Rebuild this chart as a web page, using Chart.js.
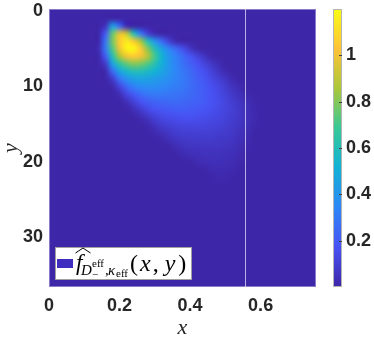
<!DOCTYPE html>
<html><head><meta charset="utf-8">
<script src="https://cdn.jsdelivr.net/npm/chart.js@4/dist/chart.umd.min.js"></script>
<style>html,body{margin:0;padding:0;background:#fff;}canvas{display:block;}</style>
</head><body>
<canvas id="c" width="374" height="340"></canvas>
<script>
// ---- axis ranges and ticks ----
const xRange = [0, 0.757];
const yRange = [-0.27, 36.6];
const cRange = [0, 1.2];
const xTickValues = [0, 0.2, 0.4, 0.6];
const xTickLabels = ['0', '0.2', '0.4', '0.6'];
const yTickValues = [0, 10, 20, 30];
const yTickLabels = ['0', '10', '20', '30'];
const cTickValues = [0.2, 0.4, 0.6, 0.8, 1];
const cTickLabels = ['0.2', '0.4', '0.6', '0.8', '1'];
const markerX = 0.557;

// ---- density grid (cell centres) ----
const gridX = [0.14,0.16,0.18,0.20,0.22,0.24,0.26,0.28,0.30,0.32,0.34,0.36,0.38,0.40,0.42,0.44,0.46,0.48,0.50,0.52,0.54,0.56,0.58,0.60];
const gridY = [1,2,3,4,5,6,7,8,9,10,11,12,13,14,15,16,17,18,19,20,21,22,23,24];
const density = [
 [0,0,0,0,0,0,0,0,0,0,0,0,0,0,0,0,0,0,0,0,0,0,0,0],
 [0,0.05,0.45,0.25,0.02,0,0,0,0,0,0,0,0,0,0,0,0,0,0,0,0,0,0,0],
 [0,0.2,0.75,0.98,0.92,0.6,0.3,0.1,0.02,0,0,0,0,0,0,0,0,0,0,0,0,0,0,0],
 [0,0.28,0.78,1.05,1.15,1.05,0.85,0.6,0.4,0.25,0.1,0.02,0,0,0,0,0,0,0,0,0,0,0,0],
 [0.02,0.3,0.72,1.0,1.18,1.19,1.05,0.8,0.6,0.45,0.33,0.25,0.15,0.07,0.01,0,0,0,0,0,0,0,0,0],
 [0,0.2,0.6,0.85,1.0,1.05,1.0,0.88,0.7,0.52,0.4,0.32,0.25,0.18,0.12,0.06,0.01,0,0,0,0,0,0,0],
 [0,0.08,0.45,0.65,0.75,0.8,0.78,0.72,0.62,0.5,0.4,0.33,0.27,0.22,0.17,0.12,0.07,0.03,0,0,0,0,0,0],
 [0,0.01,0.25,0.45,0.55,0.6,0.6,0.57,0.52,0.46,0.4,0.34,0.29,0.25,0.2,0.16,0.11,0.06,0.02,0,0,0,0,0],
 [0,0,0.08,0.28,0.38,0.44,0.46,0.45,0.43,0.4,0.37,0.33,0.3,0.26,0.22,0.18,0.14,0.1,0.06,0.02,0,0,0,0],
 [0,0,0.01,0.12,0.25,0.32,0.36,0.37,0.37,0.35,0.33,0.31,0.29,0.26,0.23,0.2,0.16,0.13,0.09,0.05,0.02,0,0,0],
 [0,0,0,0.03,0.13,0.2,0.26,0.29,0.3,0.3,0.29,0.28,0.27,0.25,0.23,0.2,0.17,0.14,0.11,0.07,0.04,0.01,0,0],
 [0,0,0,0,0.04,0.11,0.17,0.21,0.23,0.24,0.25,0.25,0.24,0.23,0.22,0.2,0.17,0.15,0.12,0.09,0.06,0.03,0.01,0],
 [0,0,0,0,0,0.04,0.09,0.14,0.17,0.19,0.2,0.21,0.21,0.2,0.19,0.18,0.16,0.14,0.12,0.1,0.07,0.04,0.015,0],
 [0,0,0,0,0,0,0.03,0.07,0.11,0.14,0.15,0.16,0.17,0.17,0.16,0.15,0.14,0.13,0.11,0.09,0.07,0.04,0.02,0],
 [0,0,0,0,0,0,0,0.02,0.06,0.09,0.11,0.12,0.13,0.13,0.13,0.13,0.12,0.11,0.1,0.08,0.06,0.04,0.01,0],
 [0,0,0,0,0,0,0,0,0.02,0.05,0.07,0.09,0.1,0.1,0.1,0.1,0.1,0.09,0.08,0.07,0.05,0.03,0,0],
 [0,0,0,0,0,0,0,0,0,0.01,0.04,0.06,0.07,0.08,0.08,0.08,0.08,0.07,0.07,0.06,0.04,0.02,0,0],
 [0,0,0,0,0,0,0,0,0,0,0,0.03,0.045,0.055,0.06,0.06,0.06,0.06,0.055,0.045,0.03,0.01,0,0],
 [0,0,0,0,0,0,0,0,0,0,0,0,0.02,0.035,0.04,0.045,0.045,0.045,0.04,0.035,0.02,0,0,0],
 [0,0,0,0,0,0,0,0,0,0,0,0,0,0,0.02,0.03,0.035,0.035,0.03,0.025,0.01,0,0,0],
 [0,0,0,0,0,0,0,0,0,0,0,0,0,0,0,0,0.02,0.025,0.02,0.015,0,0,0,0],
 [0,0,0,0,0,0,0,0,0,0,0,0,0,0,0,0,0,0.012,0.012,0,0,0,0,0],
 [0,0,0,0,0,0,0,0,0,0,0,0,0,0,0,0,0,0,0,0,0,0,0,0],
 [0,0,0,0,0,0,0,0,0,0,0,0,0,0,0,0,0,0,0,0,0,0,0,0]
];

// parula-like colormap stops
const cmapStops = [[62,38,168],[72,82,244],[46,135,247],[18,177,214],[55,200,151],[171,199,57],[254,195,56],[249,251,21]];
function colorFor(v) {
  let t = (v - cRange[0]) / (cRange[1] - cRange[0]);
  t = Math.max(0, Math.min(1, t));
  const p = t * (cmapStops.length - 1);
  const i = Math.min(cmapStops.length - 2, Math.floor(p));
  const f = p - i;
  const a = cmapStops[i], b = cmapStops[i + 1];
  return [0,1,2].map(k => Math.round(a[k] + (b[k] - a[k]) * f));
}
const rgb = c => `rgb(${c[0]},${c[1]},${c[2]})`;

const tickFont = { family: '"Liberation Sans", Arial, sans-serif', size: 18, weight: 'bold' };
const tickColor = '#262626';
const mathFam = '"Liberation Serif", "DejaVu Serif", serif';

const heatmapPlugin = {
  id: 'heatmap',
  beforeDatasetsDraw(chart) {
    const { ctx, chartArea: a, scales: { x, y } } = chart;
    ctx.save();
    ctx.beginPath();
    ctx.rect(a.left, a.top, a.right - a.left, a.bottom - a.top);
    ctx.clip();
    ctx.fillStyle = rgb(colorFor(0));
    ctx.fillRect(a.left, a.top, a.right - a.left, a.bottom - a.top);
    const nx = gridX.length, ny = gridY.length;
    const off = document.createElement('canvas');
    off.width = nx; off.height = ny;
    const octx = off.getContext('2d');
    const img = octx.createImageData(nx, ny);
    for (let j = 0; j < ny; j++) for (let i = 0; i < nx; i++) {
      const c = colorFor(density[j][i]);
      const k = (j * nx + i) * 4;
      img.data[k] = c[0]; img.data[k + 1] = c[1]; img.data[k + 2] = c[2]; img.data[k + 3] = 255;
    }
    octx.putImageData(img, 0, 0);
    const dx = gridX[1] - gridX[0], dy = gridY[1] - gridY[0];
    const L = x.getPixelForValue(gridX[0] - dx / 2), R = x.getPixelForValue(gridX[nx - 1] + dx / 2);
    const T = y.getPixelForValue(gridY[0] - dy / 2), B = y.getPixelForValue(gridY[ny - 1] + dy / 2);
    ctx.imageSmoothingEnabled = true;
    ctx.imageSmoothingQuality = 'high';
    ctx.drawImage(off, L, T, R - L, B - T);
    // vertical marker line
    const px = Math.round(x.getPixelForValue(markerX)) + 0.5;
    ctx.strokeStyle = 'rgba(255,255,255,0.65)';
    ctx.lineWidth = 1;
    ctx.beginPath(); ctx.moveTo(px, a.top); ctx.lineTo(px, a.bottom); ctx.stroke();
    ctx.restore();
    // axes box
    ctx.save();
    ctx.strokeStyle = 'rgba(255,255,255,0.4)';
    ctx.lineWidth = 1;
    ctx.strokeRect(a.left + 0.5, a.top + 0.5, a.right - a.left - 1, a.bottom - a.top - 1);
    ctx.restore();
  },
  afterDraw(chart) {
    const { ctx, chartArea: a, scales: { c } } = chart;
    // colorbar
    const cbL = c.left + 17, cbW = 9;
    ctx.save();
    for (let py = Math.floor(c.top); py < Math.ceil(c.bottom); py++) {
      const v = c.getValueForPixel(py + 0.5);
      ctx.fillStyle = rgb(colorFor(v));
      ctx.fillRect(cbL, py, cbW, 1);
    }
    ctx.strokeStyle = '#b4b4b4';
    ctx.lineWidth = 1;
    ctx.strokeRect(cbL + 0.5, c.top + 0.5, cbW - 1, c.bottom - c.top - 1);
    ctx.strokeStyle = '#404040';
    cTickValues.forEach(v => {
      const py = Math.round(c.getPixelForValue(v)) + 0.5;
      ctx.beginPath(); ctx.moveTo(cbL + cbW - 3, py); ctx.lineTo(cbL + cbW, py); ctx.stroke();
    });
    // legend
    const lx = a.left + 6, ly = a.bottom - 40, lw = 137, lh = 33;
    ctx.fillStyle = '#ffffff';
    ctx.fillRect(lx, ly, lw, lh);
    ctx.strokeStyle = '#a0a0a0';
    ctx.strokeRect(lx + 0.5, ly + 0.5, lw - 1, lh - 1);
    ctx.fillStyle = chart.data.datasets[0].backgroundColor;
    ctx.fillRect(lx + 2, ly + 12, 16, 9);
    ctx.fillStyle = '#000';
    ctx.textBaseline = 'alphabetic';
    ctx.textAlign = 'left';
    const bx = lx + 20, by = ly + 23;
    const put = (s, dx, dy, font) => { ctx.font = font; ctx.fillText(s, bx + dx, by + dy); return ctx.measureText(s).width; };
    put('f', 1, 0, `italic 23px ${mathFam}`);
    // wide hat
    ctx.strokeStyle = '#000'; ctx.lineWidth = 1;
    ctx.beginPath(); ctx.moveTo(bx + 0.5, by - 17); ctx.lineTo(bx + 8, by - 22); ctx.lineTo(bx + 15.5, by - 17); ctx.stroke();
    put('D', 6, 5, `italic 15px ${mathFam}`);
    put('eff', 17, -3, `11px ${mathFam}`);
    put('\u2212', 17, 8, `11px ${mathFam}`);
    put(',', 30, 5, `italic 15px ${mathFam}`);
    put('\u03ba', 33, 5, `italic 15px ${mathFam}`);
    put('eff', 41, 7, `11px ${mathFam}`);
    let tx = 55;
    const seq = [['(', '', 2], ['x', 'italic ', 2], [',', '', 6], ['y', 'italic ', 3], [')', '', 0]];
    seq.forEach(([s, st, gap]) => { tx += put(s, tx, 1, `${st}24px ${mathFam}`) + gap; });
    ctx.restore();
  }
};

const zeroPad = s => { s.paddingTop = 0; s.paddingBottom = 0; s.paddingLeft = 0; s.paddingRight = 0; };

const chart = new Chart(document.getElementById('c'), {
  type: 'scatter',
  data: { datasets: [{ label: 'f_hat', data: [], backgroundColor: 'rgb(62,45,190)' }] },
  options: {
    responsive: false,
    animation: false,
    events: [],
    layout: { padding: { top: 9, left: 0, right: 0, bottom: 0 } },
    plugins: { legend: { display: false }, tooltip: { enabled: false } },
    scales: {
      x: {
        type: 'linear', min: xRange[0], max: xRange[1],
        grid: { display: false, drawTicks: false }, border: { display: false },
        afterBuildTicks: s => { s.ticks = xTickValues.map(v => ({ value: v })); },
        ticks: { font: tickFont, color: tickColor, padding: 8, maxRotation: 0, autoSkip: false, callback: (v, i) => xTickLabels[i] },
        title: { display: true, text: 'x', color: '#262626', font: { family: mathFam, size: 22, style: 'italic', lineHeight: 1 }, padding: { top: 0, bottom: 1 } },
        afterFit: s => { s.height = 53; zeroPad(s); }
      },
      y: {
        type: 'linear', reverse: true, min: yRange[0], max: yRange[1],
        grid: { display: false, drawTicks: false }, border: { display: false },
        afterBuildTicks: s => { s.ticks = yTickValues.map(v => ({ value: v })); },
        ticks: { font: tickFont, color: tickColor, padding: 6, autoSkip: false, callback: (v, i) => yTickLabels[i] },
        title: { display: true, text: 'y', color: '#262626', font: { family: mathFam, size: 22, style: 'italic', lineHeight: 1 }, padding: { top: 0, bottom: 0 } },
        afterFit: s => { s.width = 49; zeroPad(s); }
      },
      c: {
        type: 'linear', axis: 'y', position: 'right', min: cRange[0], max: cRange[1],
        grid: { display: false, drawTicks: false }, border: { display: false },
        afterBuildTicks: s => { s.ticks = cTickValues.map(v => ({ value: v })); },
        ticks: { font: tickFont, color: tickColor, padding: 30, autoSkip: false, callback: (v, i) => cTickLabels[i] },
        afterFit: s => { s.width = 58; zeroPad(s); }
      }
    }
  },
  plugins: [heatmapPlugin]
});
</script>
</body></html>
